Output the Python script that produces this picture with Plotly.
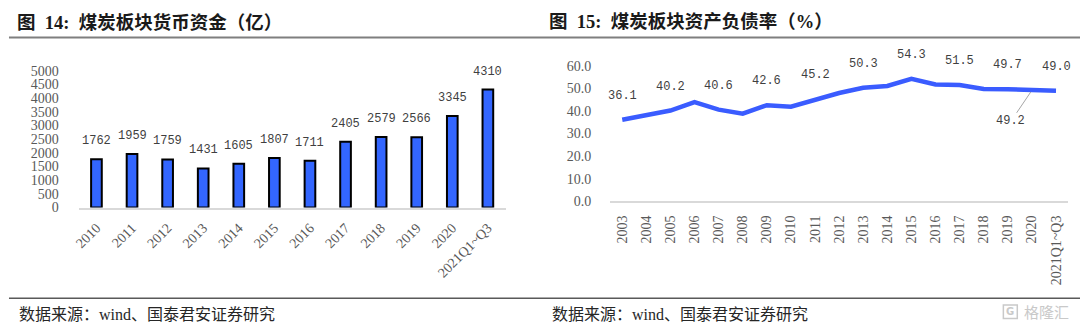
import plotly.graph_objects as go

# 煤炭板块货币资金（亿）
cash_years = ["2010", "2011", "2012", "2013", "2014", "2015", "2016",
              "2017", "2018", "2019", "2020", "2021Q1~Q3"]
cash_values = [1762, 1959, 1759, 1431, 1605, 1807, 1711, 2405, 2579, 2566, 3345, 4310]

# 煤炭板块资产负债率（%）
ratio_years = ["2003", "2004", "2005", "2006", "2007", "2008", "2009", "2010",
               "2011", "2012", "2013", "2014", "2015", "2016", "2017", "2018",
               "2019", "2020", "2021Q1~Q3"]
ratio_values = [36.1, 38.4, 40.2, 44.0, 40.6, 38.8, 42.6, 41.9, 45.2, 48.0,
                50.3, 51.1, 54.3, 51.8, 51.5, 49.8, 49.7, 49.2, 49.0]
# points whose values are printed above the line
ratio_labelled = ["2003", "2005", "2007", "2009", "2011", "2013", "2015",
                  "2017", "2019", "2021Q1~Q3"]
# point whose value is printed below with a leader line
ratio_callout = "2020"

W, H = 1080, 335
SERIF = "Liberation Serif, Times New Roman, serif"
MONO = "Liberation Mono, DejaVu Sans Mono, monospace"
TITLE_FONT = "Liberation Serif, Noto Sans CJK SC, serif"
TICK_GRAY = "#595959"
LABEL_GRAY = "#3f3f3f"


def px_x(p):
    return p / W


def px_y(p):
    return 1 - p / H


fig = go.Figure()

fig.add_trace(go.Bar(
    x=cash_years, y=cash_values, xaxis="x", yaxis="y",
    width=0.3,
    marker=dict(color="#3366FF", line=dict(color="#000000", width=2)),
    hoverinfo="x+y",
))

fig.add_trace(go.Scatter(
    x=ratio_years, y=ratio_values, xaxis="x2", yaxis="y2",
    mode="lines",
    line=dict(color="#3A5CFF", width=4.5),
    hoverinfo="x+y",
))

annotations = []

# bar value labels (category axes take the category index as position)
for i, v in enumerate(cash_values):
    annotations.append(dict(
        x=i, y=v, xref="x", yref="y", text=str(v), showarrow=False,
        yshift=18, font=dict(family=MONO, size=12, color=LABEL_GRAY),
    ))

# line value labels
for yr in ratio_labelled:
    i = ratio_years.index(yr)
    annotations.append(dict(
        x=i, y=ratio_values[i], xref="x2", yref="y2",
        text=f"{ratio_values[i]:.1f}", showarrow=False, yshift=24,
        font=dict(family=MONO, size=12, color=LABEL_GRAY),
    ))
ci = ratio_years.index(ratio_callout)
annotations.append(dict(
    x=ci, y=ratio_values[ci], xref="x2", yref="y2",
    text=f"{ratio_values[ci]:.1f}", showarrow=True, arrowhead=0,
    arrowwidth=1, arrowcolor="#a6a6a6", ax=-21, ay=31, standoff=2,
    font=dict(family=MONO, size=12, color=LABEL_GRAY),
))

# panel titles
annotations.append(dict(
    x=px_x(10), y=px_y(16), xref="paper", yref="paper", xanchor="left",
    yanchor="middle", showarrow=False,
    text="<b>图  14:  煤炭板块货币资金（亿）</b>",
    font=dict(family=TITLE_FONT, size=18.5, color="#1a1a1a"),
))
annotations.append(dict(
    x=px_x(545), y=px_y(16), xref="paper", yref="paper", xanchor="left",
    yanchor="middle", showarrow=False,
    text="<b>图  15:  煤炭板块资产负债率（%）</b>",
    font=dict(family=TITLE_FONT, size=18.5, color="#1a1a1a"),
))

# source notes
for x0 in (12, 548):
    annotations.append(dict(
        x=px_x(x0), y=px_y(322), xref="paper", yref="paper", xanchor="left",
        yanchor="middle", showarrow=False,
        text="数据来源：wind、国泰君安证券研究",
        font=dict(family=TITLE_FONT, size=16, color="#262626"),
    ))

# watermark
annotations.append(dict(
    x=px_x(1022), y=px_y(319), xref="paper", yref="paper", xanchor="left",
    yanchor="middle", showarrow=False, text="格隆汇",
    font=dict(family="Noto Sans CJK SC", size=15, color="#c9c9c9"),
))
annotations.append(dict(
    x=px_x(1010), y=px_y(319), xref="paper", yref="paper", xanchor="center",
    yanchor="middle", showarrow=False, text="<b>G</b>",
    font=dict(family="DejaVu Sans", size=10, color="#c9c9c9"),
))

shapes = [
    dict(type="line", xref="paper", yref="paper", x0=px_x(4), x1=1,
         y0=px_y(32), y1=px_y(32), line=dict(color="#7f7f7f", width=2)),
    dict(type="line", xref="paper", yref="paper", x0=px_x(4), x1=1,
         y0=px_y(305), y1=px_y(305), line=dict(color="#595959", width=1.5)),
    dict(type="rect", xref="paper", yref="paper", x0=px_x(1003), x1=px_x(1017),
         y0=px_y(326), y1=px_y(312), line=dict(color="#c9c9c9", width=1.5)),
]

fig.update_layout(
    width=W, height=H,
    margin=dict(l=0, r=0, t=0, b=0),
    paper_bgcolor="#ffffff", plot_bgcolor="#ffffff",
    showlegend=False,
    annotations=annotations,
    shapes=shapes,
    xaxis=dict(
        domain=[px_x(74), px_x(503)], type="category",
        range=[-0.5, len(cash_years) - 0.5],
        showline=True, linecolor="#d9d9d9", linewidth=1.5,
        showgrid=False, ticks="", tickangle=-45, ticklabelstandoff=5,
        tickfont=dict(family=SERIF, size=14, color=TICK_GRAY),
    ),
    yaxis=dict(
        domain=[px_y(210), px_y(66.7)], range=[0, 5000], dtick=500,
        showline=False, showgrid=False, zeroline=False, ticks="",
        ticklabelstandoff=19,
        tickfont=dict(family=SERIF, size=14, color=TICK_GRAY),
    ),
    xaxis2=dict(
        domain=[px_x(608), px_x(1068)], type="category", anchor="y2",
        range=[-0.5, len(ratio_years) - 0.5],
        showline=True, linecolor="#d9d9d9", linewidth=1.5,
        showgrid=False, ticks="", tickangle=-90, ticklabelstandoff=7,
        tickfont=dict(family=SERIF, size=14, color=TICK_GRAY),
    ),
    yaxis2=dict(
        domain=[px_y(203.3), px_y(61.7)], range=[0, 60], dtick=10,
        anchor="x2", tickformat=".1f",
        showline=False, showgrid=False, zeroline=False, ticks="",
        ticklabelstandoff=18,
        tickfont=dict(family=SERIF, size=14, color=TICK_GRAY),
    ),
)

fig.write_html("out.html")
